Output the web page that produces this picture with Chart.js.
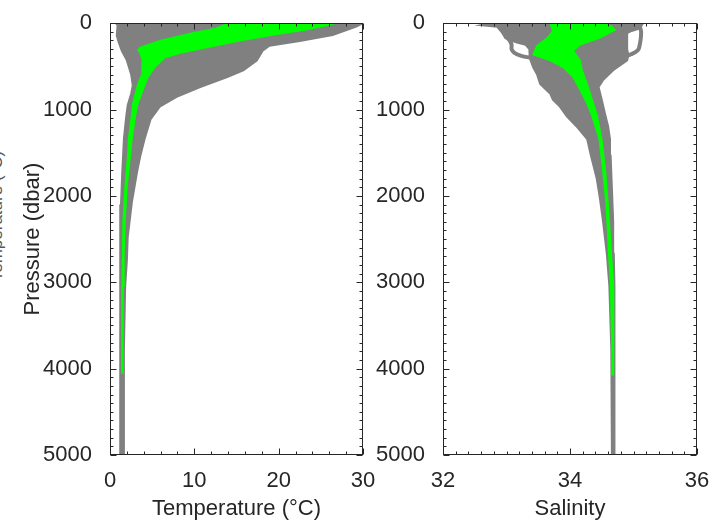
<!DOCTYPE html>
<html>
<head>
<meta charset="utf-8">
<script src="https://cdn.jsdelivr.net/npm/chart.js@4.4.0/dist/chart.umd.min.js"></script>
<style>
  html, body { margin:0; padding:0; background:#fff; overflow:hidden; }
  body { width:725px; height:524px; position:relative; }
  canvas { position:absolute; top:0; }
  #c1 { left:0; }
  #c2 { left:365px; }
  #ghost { position:absolute; left:-73px; top:206px; width:140px; height:20px; line-height:20px;
           font-family:'Liberation Sans', Arial, sans-serif; font-size:17px; color:#555;
           text-align:center; transform:rotate(-90deg); white-space:nowrap; }
</style>
</head>
<body>
<div id="ghost">Temperature (°C)</div>
<canvas id="c1" width="385" height="524"></canvas>
<canvas id="c2" width="360" height="524"></canvas>
<script>
// ---- data: [pressure (dbar), value] ----
const pressureTicks = [0, 1000, 2000, 3000, 4000, 5000];
const tempTicks = [0, 10, 20, 30];
const salTicks = [32, 34, 36];

const tempGrayLeft = [[0,0.7],[25,0.9],[140,0.8],[210,1.0],[320,1.4],[430,2.0],[590,2.5],[720,2.7],[820,2.5],[950,2.1],[1100,1.9],[1340,1.65],[1730,1.45],[2100,1.3],[2500,1.25],[3000,1.2],[4000,1.2],[5000,1.2]];
const tempGrayRight = [[0,30.0],[40,29.2],[136,26.4],[205,22.5],[261,18.9],[318,18.1],[432,17.4],[545,15.8],[625,13.9],[739,10.7],[852,7.9],[966,5.9],[1114,4.8],[1341,4.1],[1534,3.6],[1727,3.2],[2068,2.6],[2477,2.1],[2750,2.0],[3045,1.8],[3773,1.65],[5000,1.6]];
const tempGreenLeft = [[3,14.0],[60,12.5],[120,9.5],[200,6.0],[280,3.6],[310,3.3],[350,3.6],[450,3.9],[590,3.8],[704,3.3],[818,3.0],[932,2.7],[1114,2.5],[1341,2.2],[1534,2.1],[1909,1.78],[2295,1.55],[2670,1.5],[3045,1.42],[3773,1.4],[4050,1.4]];
const tempGreenRight = [[3,26.0],[11,26.3],[30,25.5],[80,23.1],[136,19.2],[205,15.2],[284,11.3],[341,8.5],[398,6.5],[511,5.3],[625,4.5],[773,3.9],[932,3.3],[1080,3.0],[1341,2.6],[1534,2.4],[1909,2.0],[2295,1.78],[2670,1.65],[3045,1.55],[3773,1.52],[4050,1.5]];

const salGrayLeft = [[0,32.75],[23,32.6],[40,32.85],[100,32.92],[170,32.98],[220,33.15],[250,33.3],[300,33.36],[360,33.36],[400,33.37],[511,33.42],[590,33.48],[704,33.53],[818,33.69],[886,33.73],[966,33.84],[1080,33.95],[1193,34.1],[1341,34.27],[1534,34.33],[1795,34.42],[2023,34.47],[2295,34.52],[2670,34.58],[3045,34.62],[3773,34.65],[5000,34.66]];
const salGrayRight = [[0,35.15],[60,35.1],[90,34.97],[115,34.9],[300,34.9],[370,34.92],[432,34.9],[545,34.68],[659,34.52],[739,34.45],[886,34.5],[1045,34.55],[1193,34.6],[1341,34.63],[1534,34.64],[1909,34.66],[2295,34.68],[2670,34.69],[3045,34.7],[3773,34.7],[5000,34.7]];
const salOutlierRight = [[40,35.1],[100,35.12],[200,35.11],[300,35.08],[335,35.03],[360,34.96],[375,34.92]];
const salOutlierLeft = [[150,32.98],[200,33.05],[250,33.08],[300,33.08],[340,33.12],[375,33.22],[400,33.37]];
const salGreenLeft = [[5,33.69],[91,33.73],[170,33.64],[261,33.48],[364,33.42],[432,33.69],[511,33.89],[625,34.05],[773,34.16],[932,34.27],[1080,34.35],[1341,34.46],[1727,34.52],[2102,34.57],[2670,34.61],[3045,34.64],[3773,34.66],[4070,34.66]];
const salGreenRight = [[5,34.5],[16,34.58],[30,34.65],[80,34.71],[170,34.47],[250,34.16],[318,34.05],[432,34.16],[545,34.19],[704,34.27],[886,34.35],[1080,34.43],[1341,34.5],[1727,34.56],[2102,34.6],[2670,34.65],[3045,34.68],[3773,34.69],[4070,34.69]];

// ---- helpers ----
const GRAY = '#808080', GREEN = '#00ff00', INK = '#262626';
const FONT = "'Liberation Sans', Arial, Helvetica, sans-serif";
const pts = arr => arr.map(([p, v]) => ({x: v, y: p}));
const polygon = (left, right) => pts(left).concat(pts(right.slice().reverse()));

function areaDs(left, right, color, order, bw) {
  return { data: polygon(left, right), showLine: true, fill: 'shape', backgroundColor: color,
           borderColor: color, borderWidth: bw, pointRadius: 0, tension: 0, order };
}
function lineDs(arr, color, order, bw) {
  return { data: pts(arr), showLine: true, fill: false, borderColor: color, borderWidth: bw,
           pointRadius: 0, tension: 0.3, order };
}

const boxTicks = {
  id: 'boxTicks',
  afterDatasetsDraw(chart, args, o) {
    const {ctx, chartArea: a, scales: {x, y}} = chart;
    ctx.save();
    ctx.strokeStyle = INK; ctx.lineWidth = 1;
    const L = Math.round(a.left) + 0.5, R = Math.round(a.right) - 0.5;
    const T = Math.round(a.top) + 0.5, B = Math.round(a.bottom) - 0.5;
    ctx.beginPath();
    const n1 = Math.round((x.max - x.min) / o.xMinor);
    for (let i = 0; i <= n1; i++) {
      const v = x.min + i * o.xMinor;
      const px = Math.round(x.getPixelForValue(v)) + 0.5;
      const len = o.xMajor.some(m => Math.abs(m - v) < 1e-6) ? 6 : 3;
      ctx.moveTo(px, B); ctx.lineTo(px, B - len);
      ctx.moveTo(px, T); ctx.lineTo(px, T + len);
    }
    const n2 = Math.round((y.max - y.min) / o.yMinor);
    for (let i = 0; i <= n2; i++) {
      const v = y.min + i * o.yMinor;
      const py = Math.round(y.getPixelForValue(v)) + 0.5;
      const len = o.yMajor.some(m => Math.abs(m - v) < 1e-6) ? 6 : 3;
      ctx.moveTo(L, py); ctx.lineTo(L + len, py);
      ctx.moveTo(R, py); ctx.lineTo(R - len, py);
    }
    ctx.stroke();
    ctx.strokeRect(L, T, R - L, B - T);
    ctx.restore();
  }
};

function makeChart(id, datasets, xr, xTicks, xTitle, yTitle, padRight, yWidth, xMinor) {
  return new Chart(document.getElementById(id), {
    type: 'scatter',
    data: { datasets },
    options: {
      responsive: false, animation: false, devicePixelRatio: 1,
      layout: { padding: { left: 0, top: 15, right: padRight, bottom: 0 } },
      plugins: { legend: { display: false }, tooltip: { enabled: false },
                 boxTicks: { xMinor, xMajor: xTicks, yMinor: 100, yMajor: pressureTicks } },
      scales: {
        x: { type: 'linear', min: xr[0], max: xr[1],
             afterBuildTicks: s => { s.ticks = xTicks.map(v => ({value: v})); },
             afterFit: s => { s.height = 69; },
             grid: { display: false }, border: { display: false },
             ticks: { color: INK, padding: 5, font: { family: FONT, size: 22 }, maxRotation: 0, autoSkip: false,
                      callback: v => String(v) },
             title: { display: true, text: xTitle, color: INK, padding: { top: 0, bottom: 2 }, font: { family: FONT, size: 22 } } },
        y: { type: 'linear', min: 0, max: 5000, reverse: true,
             afterBuildTicks: s => { s.ticks = pressureTicks.map(v => ({value: v})); },
             afterFit: s => { s.width = yWidth; },
             grid: { display: false }, border: { display: false },
             ticks: { color: INK, padding: 10, font: { family: FONT, size: 22 }, autoSkip: false,
                      callback: v => String(v) },
             title: { display: !!yTitle, text: yTitle || '', color: INK, padding: { top: 20, bottom: 0 }, font: { family: FONT, size: 22 } } }
      }
    },
    plugins: [boxTicks]
  });
}

makeChart('c1', [
  areaDs(tempGreenLeft, tempGreenRight, GREEN, 0, 1.5),
  areaDs(tempGrayLeft, tempGrayRight, GRAY, 2, 2)
], [0, 30], tempTicks, 'Temperature (°C)', 'Pressure (dbar)', 22, 110, 2);

makeChart('c2', [
  areaDs(salGreenLeft, salGreenRight, GREEN, 0, 1.5),
  lineDs(salOutlierRight, GRAY, 1, 4),
  lineDs(salOutlierLeft, GRAY, 1, 4),
  areaDs(salGrayLeft, salGrayRight, GRAY, 2, 2)
], [32, 36], salTicks, 'Salinity', null, 28, 78, 0.2);
</script>
</body>
</html>
